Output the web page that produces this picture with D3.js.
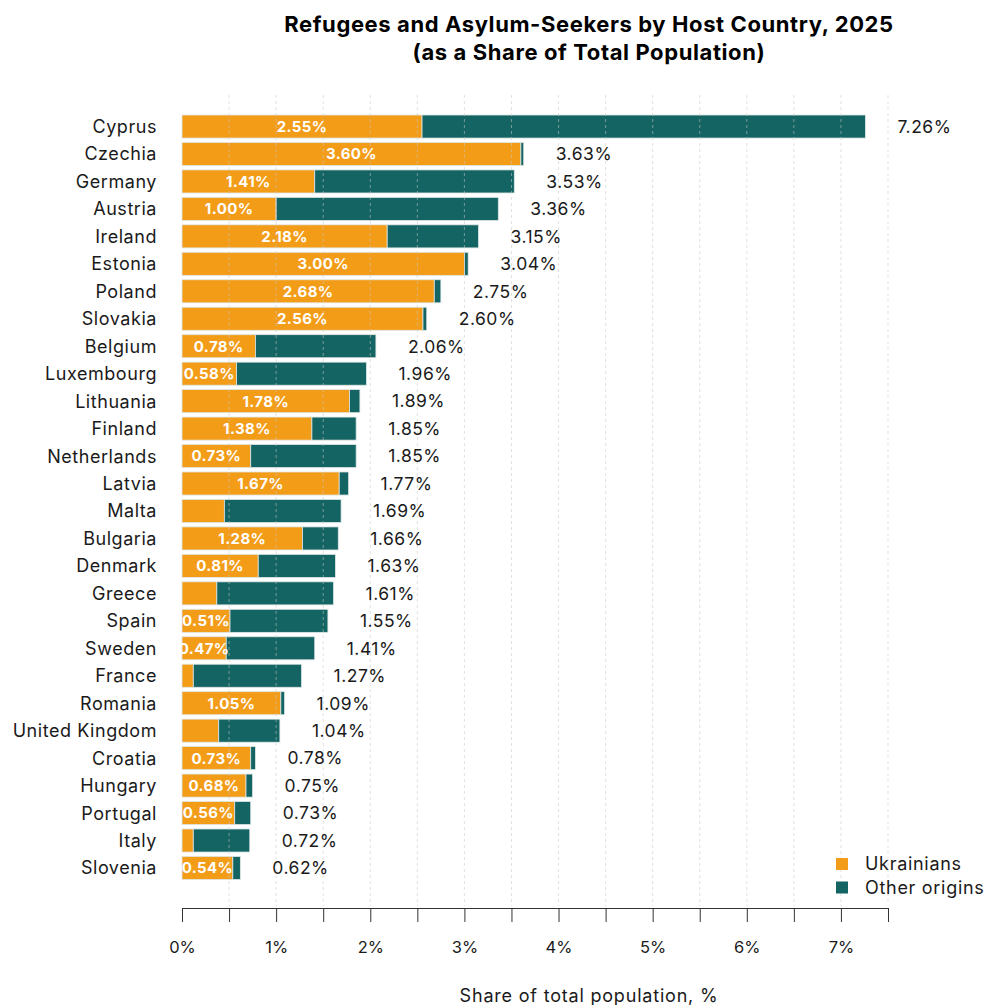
<!DOCTYPE html>
<html>
<head>
<meta charset="utf-8">
<script src="https://cdn.jsdelivr.net/npm/d3@7"></script>
<style>
  body { margin: 0; background: #fff; }
  svg text { font-family: Inter, "Noto Sans", sans-serif; }
</style>
</head>
<body>
<div id="chart"></div>
<script>
// data
var countries = ["Cyprus", "Czechia", "Germany", "Austria", "Ireland", "Estonia", "Poland", "Slovakia",
                 "Belgium", "Luxembourg", "Lithuania", "Finland", "Netherlands", "Latvia", "Malta", "Bulgaria",
                 "Denmark", "Greece", "Spain", "Sweden", "France", "Romania", "United Kingdom", "Croatia",
                 "Hungary", "Portugal", "Italy", "Slovenia"];
var ukrainians = [2.55, 3.60, 1.41, 1.00, 2.18, 3.00, 2.68, 2.56,
                  0.78, 0.58, 1.78, 1.38, 0.73, 1.67, 0.45, 1.28,
                  0.81, 0.37, 0.51, 0.47, 0.12, 1.05, 0.39, 0.73,
                  0.68, 0.56, 0.12, 0.54];
var totals = [7.26, 3.63, 3.53, 3.36, 3.15, 3.04, 2.75, 2.60,
              2.06, 1.96, 1.89, 1.85, 1.85, 1.77, 1.69, 1.66,
              1.63, 1.61, 1.55, 1.41, 1.27, 1.09, 1.04, 0.78,
              0.75, 0.73, 0.72, 0.62];
var xTicks = [0, 1, 2, 3, 4, 5, 6, 7];
var seriesNames = ["Ukrainians", "Other origins"];

var width = 987, height = 1005;
var orange = "#f39c18", teal = "#136462";

var rows = countries.map(function(c, i) {
    return {country: c, ukr: ukrainians[i], total: totals[i], other: totals[i] - ukrainians[i]};
});

var svg = d3.select("#chart").append("svg")
    .attr("width", width)
    .attr("height", height);

// scales
var x = d3.scaleLinear().domain([0, 7.5]).range([182, 888]);
var y = d3.scaleBand().domain(countries).range([112.8, 881.7]).paddingInner(0.16).paddingOuter(0.08);

// title
svg.append("text")
    .attr("x", 589).attr("y", 32)
    .attr("text-anchor", "middle")
    .style("font-size", "22px").style("font-weight", "700").style("letter-spacing", "0.6px")
    .text("Refugees and Asylum-Seekers by Host Country, 2025");
svg.append("text")
    .attr("x", 589).attr("y", 60)
    .attr("text-anchor", "middle")
    .style("font-size", "22px").style("font-weight", "700").style("letter-spacing", "0.6px")
    .text("(as a Share of Total Population)");

// stacked bars
var stack = d3.stack().keys(["ukr", "other"])(rows);
svg.append("g").selectAll("g")
    .data(stack)
  .enter().append("g")
    .attr("fill", function(d, i) { return i == 0 ? orange : teal; })
  .selectAll("rect")
    .data(function(d) { return d; })
  .enter().append("rect")
    .attr("x", function(d) { return x(d[0]); })
    .attr("y", function(d) { return y(d.data.country); })
    .attr("width", function(d) { return x(d[1]) - x(d[0]); })
    .attr("height", y.bandwidth())
    .attr("stroke", "#dfe6e6")
    .attr("stroke-width", 0.8);

// dashed gridlines every 0.5%, drawn over the bars
var gridVals = d3.range(0.5, 7.51, 0.5);
svg.append("g").selectAll("line")
    .data(gridVals)
  .enter().append("line")
    .attr("x1", function(d) { return x(d); })
    .attr("x2", function(d) { return x(d); })
    .attr("y1", 95).attr("y2", 906)
    .attr("stroke", "#c8c8c8")
    .attr("stroke-opacity", 0.55)
    .attr("stroke-dasharray", "3,3");

// clip for the in-bar labels
svg.append("clipPath").attr("id", "plotclip")
  .append("rect").attr("x", 182).attr("y", 90).attr("width", 710).attr("height", 820);

// Ukrainian share labels inside the orange segment
svg.append("g").attr("clip-path", "url(#plotclip)")
  .selectAll("text")
    .data(rows.filter(function(d) { return d.ukr >= 0.46; }))
  .enter().append("text")
    .attr("x", function(d) { return (x(0) + x(d.ukr)) / 2; })
    .attr("y", function(d) { return y(d.country) + y.bandwidth() / 2; })
    .attr("dy", "0.36em")
    .attr("text-anchor", "middle")
    .attr("fill", "#fff")
    .style("font-size", "15px").style("font-weight", "700").style("letter-spacing", "0.4px")
    .text(function(d) { return d.ukr.toFixed(2) + "%"; });

// total labels
svg.append("g").selectAll("text")
    .data(rows)
  .enter().append("text")
    .attr("x", function(d) { return x(d.total) + 32; })
    .attr("y", function(d) { return y(d.country) + y.bandwidth() / 2; })
    .attr("dy", "0.36em")
    .attr("fill", "#1a1a1a")
    .style("font-size", "17.5px").style("letter-spacing", "0.5px")
    .text(function(d) { return d.total.toFixed(2) + "%"; });

// country labels
svg.append("g").selectAll("text")
    .data(rows)
  .enter().append("text")
    .attr("x", 157)
    .attr("y", function(d) { return y(d.country) + y.bandwidth() / 2; })
    .attr("dy", "0.36em")
    .attr("text-anchor", "end")
    .attr("fill", "#1a1a1a")
    .style("font-size", "18px").style("letter-spacing", "0.55px")
    .text(function(d) { return d.country; });

// x axis: ticks every 0.5%, labels on whole percents
var xaxis = d3.axisBottom(x)
    .tickValues(d3.range(0, 7.51, 0.5))
    .tickSize(14)
    .tickSizeOuter(0)
    .tickPadding(19)
    .tickFormat(function(d) { return xTicks.indexOf(d) >= 0 ? d + "%" : ""; });

var gx = svg.append("g")
    .attr("transform", "translate(0,908)")
    .call(xaxis);
gx.select(".domain").attr("stroke", "#333");
gx.selectAll(".tick line").attr("stroke", "#333");
gx.selectAll("text")
    .attr("fill", "#1a1a1a")
    .style("font-size", "16.5px")
    .style("font-family", "Inter, sans-serif");

svg.append("text")
    .attr("x", 589).attr("y", 1002)
    .attr("text-anchor", "middle")
    .attr("fill", "#1a1a1a")
    .style("font-size", "18px").style("letter-spacing", "0.8px")
    .text("Share of total population, %");

// legend
var legend = svg.append("g").selectAll("g")
    .data(seriesNames)
  .enter().append("g")
    .attr("transform", function(d, i) { return "translate(836," + (858 + i * 23.5) + ")"; });
legend.append("rect")
    .attr("width", 12).attr("height", 12)
    .attr("fill", function(d, i) { return i == 0 ? orange : teal; });
legend.append("text")
    .attr("x", 29).attr("y", 6)
    .attr("dy", "0.36em")
    .attr("fill", "#1a1a1a")
    .style("font-size", "18px").style("letter-spacing", "0.7px")
    .text(function(d) { return d; });
</script>
</body>
</html>
